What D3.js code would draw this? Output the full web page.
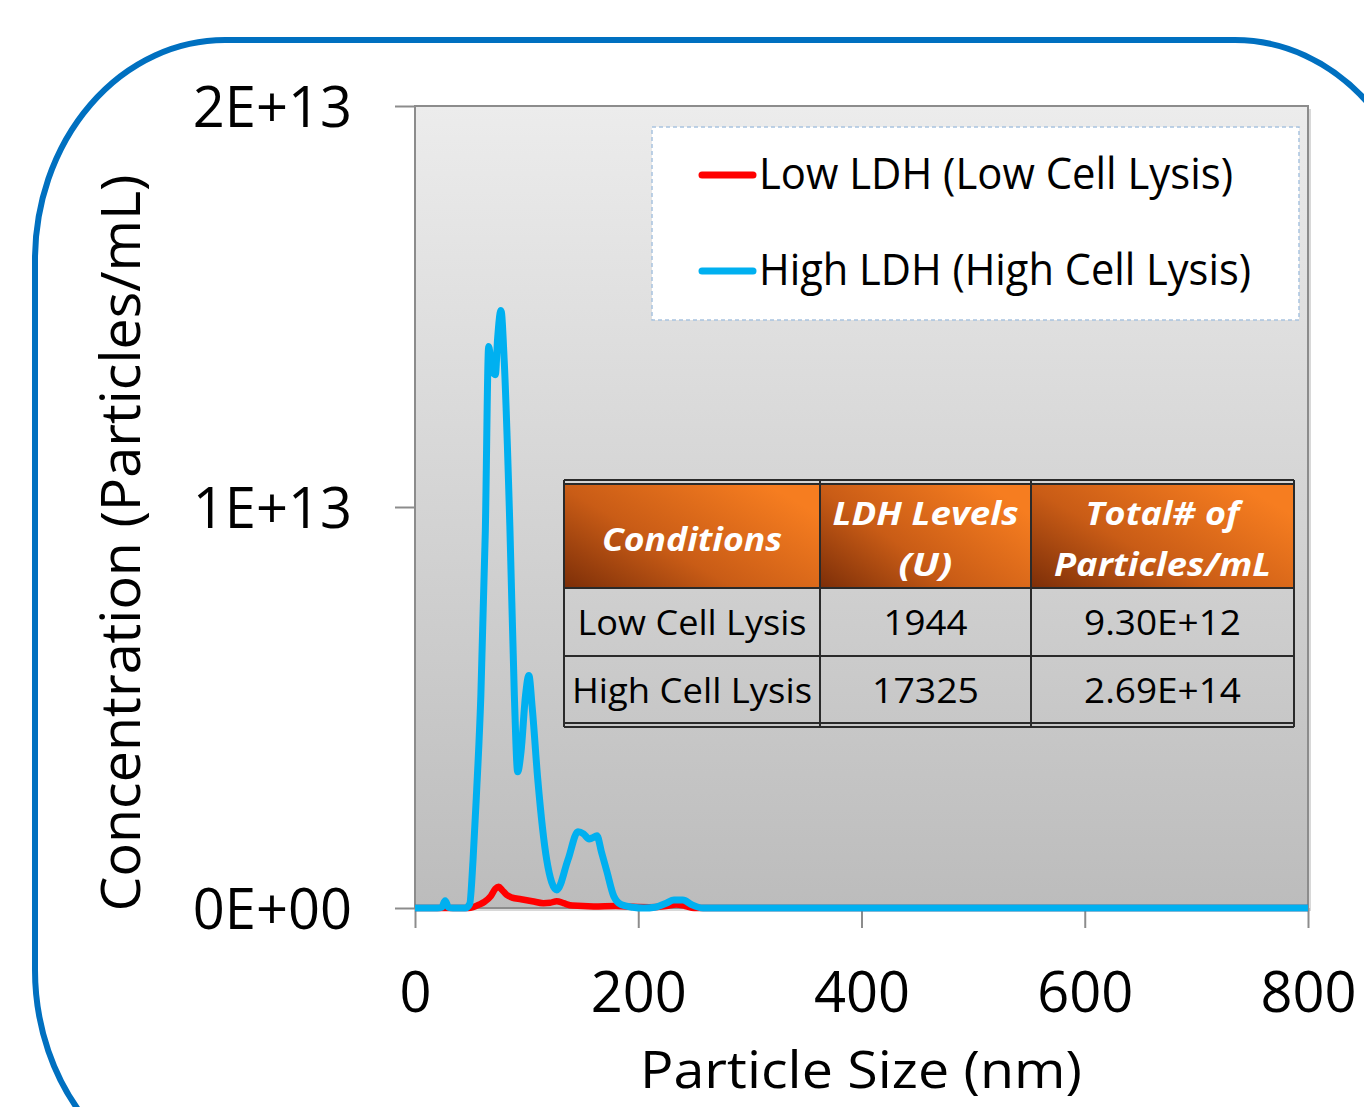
<!DOCTYPE html>
<html>
<head>
<meta charset="utf-8">
<script src="https://cdn.jsdelivr.net/npm/d3@7"></script>
<style>
  body { margin: 0; background: #fff; }
  svg { display: block; }
  text { font-family: "Open Sans", "Noto Sans", sans-serif; }
</style>
</head>
<body>
<svg id="chart" width="1364" height="1107"></svg>
<script>
// Particle size distribution (NTA) for two lysis conditions
const sizesLow = [0, 48, 52, 57, 62, 68, 72, 75, 78, 82, 87, 95, 105, 115, 121, 127, 133, 141, 160, 180, 195, 210, 225, 234, 242, 250, 300, 800];
const concLow = [0, 0, 0.02e12, 0.08e12, 0.15e12, 0.3e12, 0.48e12, 0.53e12, 0.45e12, 0.33e12, 0.26e12, 0.22e12, 0.17e12, 0.12e12, 0.13e12, 0.17e12, 0.12e12, 0.06e12, 0.04e12, 0.05e12, 0.03e12, 0.02e12, 0.05e12, 0.09e12, 0.05e12, 0, 0, 0];

const sizesHigh = [0, 20, 24, 27, 30, 34, 45, 49, 52, 55, 59, 63, 66, 69, 72, 74, 77, 80, 85, 89, 92, 95, 99, 102, 105, 110, 118, 127, 137, 146, 151, 156, 159, 163, 167, 172, 178, 185, 195, 205, 215, 225, 232, 240, 248, 258, 300, 800];
const concHigh = [0, 0, 0.02e12, 0.18e12, 0.02e12, 0, 0, 0.1e12, 1.2e12, 2.8e12, 5.3e12, 9.4e12, 14.0e12, 13.4e12, 13.3e12, 14.2e12, 14.9e12, 13.6e12, 9.5e12, 5.3e12, 3.4e12, 3.9e12, 5.3e12, 5.8e12, 5.0e12, 3.2e12, 1.2e12, 0.45e12, 1.2e12, 1.9e12, 1.85e12, 1.72e12, 1.75e12, 1.8e12, 1.4e12, 0.9e12, 0.3e12, 0.08e12, 0.02e12, 0, 0.02e12, 0.12e12, 0.2e12, 0.2e12, 0.08e12, 0, 0, 0];

const seriesNames = ["Low LDH (Low Cell Lysis)", "High LDH (High Cell Lysis)"];
const seriesColors = ["#ff0000", "#00b0f0"];

const xTicks = [0, 200, 400, 600, 800];
const yTicks = [0, 1e13, 2e13];

// summary table
const tableHeader = [["Conditions"], ["LDH Levels", "(U)"], ["Total# of", "Particles/mL"]];
const tableRows = [
  ["Low Cell Lysis", "1944", "9.30E+12"],
  ["High Cell Lysis", "17325", "2.69E+14"]
];

const svg = d3.select("#chart");
const plot = { left: 415, right: 1308, top: 106, bottom: 908 };

const x = d3.scaleLinear().domain([0, 800]).range([plot.left, plot.right]);
const y = d3.scaleLinear().domain([0, 2e13]).range([plot.bottom, plot.top]);

const defs = svg.append("defs");
const bg = defs.append("linearGradient").attr("id", "plotBg")
  .attr("x1", 0).attr("y1", 0).attr("x2", 0).attr("y2", 1);
bg.append("stop").attr("offset", 0).attr("stop-color", "#ececec");
bg.append("stop").attr("offset", 1).attr("stop-color", "#bcbcbc");

const hdr = defs.append("linearGradient").attr("id", "hdrBg")
  .attr("x1", 0).attr("y1", 1).attr("x2", 1).attr("y2", 0.3);
hdr.append("stop").attr("offset", 0).attr("stop-color", "#7c2e08");
hdr.append("stop").attr("offset", 0.45).attr("stop-color", "#c95c16");
hdr.append("stop").attr("offset", 1).attr("stop-color", "#f67d20");

// blue rounded frame
svg.append("rect")
  .attr("x", 35).attr("y", 40)
  .attr("width", 1390).attr("height", 1150)
  .attr("rx", 190).attr("ry", 220)
  .attr("fill", "none")
  .attr("stroke", "#0070c0")
  .attr("stroke-width", 6);

// plot area
svg.append("rect")
  .attr("x", plot.left + 3).attr("y", plot.top + 3)
  .attr("width", plot.right - plot.left).attr("height", plot.bottom - plot.top)
  .attr("fill", "#d8d8d8");
svg.append("rect")
  .attr("x", plot.left).attr("y", plot.top)
  .attr("width", plot.right - plot.left).attr("height", plot.bottom - plot.top)
  .attr("fill", "url(#plotBg)")
  .attr("stroke", "#8c8c8c")
  .attr("stroke-width", 2);

// axes
function sciFormat(v) {
  const e = v === 0 ? 0 : Math.floor(Math.log10(v));
  const m = v === 0 ? 0 : Math.round(v / Math.pow(10, e));
  return m + "E+" + String(e).padStart(2, "0");
}

const yAxis = svg.append("g")
  .attr("transform", `translate(${plot.left},0)`)
  .call(d3.axisLeft(y).tickValues(yTicks).tickSize(20).tickPadding(43).tickFormat(sciFormat));
yAxis.select(".domain").remove();
yAxis.selectAll(".tick line").attr("stroke", "#8c8c8c").attr("stroke-width", 2);
yAxis.selectAll(".tick text")
  .attr("font-size", 56).attr("fill", "#000").attr("dy", "0.37em")
  .attr("font-family", "'Open Sans', sans-serif");

const xAxis = svg.append("g")
  .attr("transform", `translate(0,${plot.bottom})`)
  .call(d3.axisBottom(x).tickValues(xTicks).tickSize(20).tickPadding(44));
xAxis.select(".domain").remove();
xAxis.selectAll(".tick line").attr("stroke", "#8c8c8c").attr("stroke-width", 2);
xAxis.selectAll(".tick text")
  .attr("font-size", 56).attr("fill", "#000")
  .attr("font-family", "'Open Sans', sans-serif");

// axis titles
svg.append("text")
  .attr("x", 861).attr("y", 1088)
  .attr("text-anchor", "middle")
  .attr("font-size", 52)
  .attr("textLength", 442).attr("lengthAdjust", "spacingAndGlyphs")
  .text("Particle Size (nm)");

svg.append("text")
  .attr("transform", "translate(140,543) rotate(-90)")
  .attr("text-anchor", "middle")
  .attr("font-size", 54)
  .attr("textLength", 737).attr("lengthAdjust", "spacingAndGlyphs")
  .text("Concentration (Particles/mL)");

// curves
const line = d3.line()
  .x(d => x(d[0]))
  .y(d => y(d[1]))
  .curve(d3.curveMonotoneX);

const series = [
  d3.zip(sizesLow, concLow),
  d3.zip(sizesHigh, concHigh)
];

svg.append("g").selectAll("path")
  .data(series)
  .join("path")
  .attr("d", line)
  .attr("fill", "none")
  .attr("stroke", (d, i) => seriesColors[i])
  .attr("stroke-width", (d, i) => i === 0 ? 6.5 : 7)
  .attr("stroke-linejoin", "round");

// legend
const legend = svg.append("g");
legend.append("rect")
  .attr("x", 652).attr("y", 127)
  .attr("width", 647).attr("height", 193)
  .attr("fill", "#fff")
  .attr("stroke", "#a9c4df")
  .attr("stroke-width", 1.5)
  .attr("stroke-dasharray", "4,3");

const legendY = [175, 271];
const legendLen = [474, 492];
seriesNames.forEach((name, i) => {
  legend.append("line")
    .attr("x1", 702).attr("x2", 753)
    .attr("y1", legendY[i]).attr("y2", legendY[i])
    .attr("stroke", seriesColors[i])
    .attr("stroke-width", 7)
    .attr("stroke-linecap", "round");
  legend.append("text")
    .attr("x", 759).attr("y", legendY[i] + 14)
    .attr("font-size", 44)
    .attr("textLength", legendLen[i]).attr("lengthAdjust", "spacingAndGlyphs")
    .text(name);
});

// table
const colX = [564, 820, 1031, 1294];
const rowY = [484, 588, 656, 723];
const table = svg.append("g");

tableHeader.forEach((lines, c) => {
  table.append("rect")
    .attr("x", colX[c]).attr("y", rowY[0])
    .attr("width", colX[c + 1] - colX[c]).attr("height", rowY[1] - rowY[0])
    .attr("fill", "url(#hdrBg)");
});

const hdrLens = [[180], [186, 54], [154, 217]];
tableHeader.forEach((lines, c) => {
  const cx = (colX[c] + colX[c + 1]) / 2;
  const base = lines.length === 1 ? [551] : [525, 576];
  lines.forEach((t, k) => {
    table.append("text")
      .attr("x", cx).attr("y", base[k])
      .attr("text-anchor", "middle")
      .attr("font-size", 33)
      .attr("font-weight", "bold")
      .attr("font-style", "italic")
      .attr("fill", "#fff")
      .attr("textLength", hdrLens[c][k]).attr("lengthAdjust", "spacingAndGlyphs")
      .text(t);
  });
});

const bodyLens = [[229, 84, 157], [240, 107, 157]];
tableRows.forEach((row, r) => {
  row.forEach((t, c) => {
    table.append("text")
      .attr("x", (colX[c] + colX[c + 1]) / 2)
      .attr("y", (rowY[r + 1] + rowY[r + 2]) / 2 + 13)
      .attr("text-anchor", "middle")
      .attr("font-size", 35)
      .attr("fill", "#000")
      .attr("textLength", bodyLens[r][c]).attr("lengthAdjust", "spacingAndGlyphs")
      .text(t);
  });
});

// grid lines
rowY.forEach(yy => {
  table.append("line")
    .attr("x1", colX[0]).attr("x2", colX[3])
    .attr("y1", yy).attr("y2", yy)
    .attr("stroke", "#2a2a2a").attr("stroke-width", 2);
});
[rowY[0] - 4, rowY[3] + 4].forEach(yy => {
  table.append("line")
    .attr("x1", colX[0]).attr("x2", colX[3])
    .attr("y1", yy).attr("y2", yy)
    .attr("stroke", "#2a2a2a").attr("stroke-width", 2);
});
colX.forEach(xx => {
  table.append("line")
    .attr("x1", xx).attr("x2", xx)
    .attr("y1", rowY[0] - 4).attr("y2", rowY[3] + 4)
    .attr("stroke", "#2a2a2a").attr("stroke-width", 2);
});
</script>
</body>
</html>
